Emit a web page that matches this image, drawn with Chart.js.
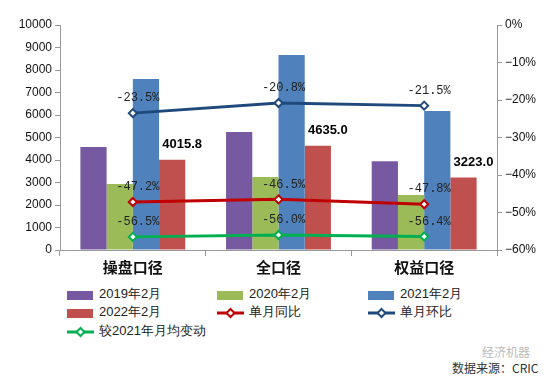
<!DOCTYPE html>
<html>
<head>
<meta charset="utf-8">
<script src="https://cdn.jsdelivr.net/npm/chart.js@4/dist/chart.umd.min.js"></script>
<style>
  body { margin: 0; background: #fff; font-family: "Liberation Sans", Arial, sans-serif; }
  #wrap { position: relative; width: 550px; height: 377px; }
  #chartBox { position: absolute; left: 0; top: 0; width: 550px; height: 285px; }
  #legend { position: absolute; left: 0; top: 285px; width: 550px; }
  .item { position: absolute; font-size: 13px; color: #222; line-height: 16px; white-space: nowrap; }
  .item canvas { vertical-align: middle; margin-right: 4px; }
  #mark { position: absolute; left: 482px; top: 343px; font-size: 12px; color: #bbb; font-family: "Noto Sans CJK SC"; }
  #src { position: absolute; left: 452px; top: 359px; font-size: 12px; color: #333; font-family: "Noto Sans CJK SC"; }
</style>
</head>
<body>
<div id="wrap">
  <div id="chartBox"><canvas id="myChart"></canvas></div>
  <div id="legend"></div>
  <div id="mark">经济机器</div>
  <div id="src">数据来源：CRIC</div>
</div>
<script>
// categories
const categories = ['操盘口径', '全口径', '权益口径'];

// bar series (left axis)
const feb2019 = [4580, 5240, 3950];
const feb2020 = [2930, 3240, 2440];
const feb2021 = [7600, 8670, 6180];
const feb2022 = [4015.8, 4635.0, 3223.0];

// line series (right axis, %)
const yoy = [-47.2, -46.5, -47.8];
const mom = [-23.5, -20.8, -21.5];
const vsAvg2021 = [-56.5, -56.0, -56.4];

const leftTicks = [0, 1000, 2000, 3000, 4000, 5000, 6000, 7000, 8000, 9000, 10000];
const rightTicks = [0, -10, -20, -30, -40, -50, -60];

const barLabel = '#000';

var datasets = [
  { type: 'line', label: '单月同比', data: yoy, yAxisID: 'y1', borderColor: '#C00000', pct: true, order: 0 },
  { type: 'line', label: '单月环比', data: mom, yAxisID: 'y1', borderColor: '#1F497D', pct: true, order: 0 },
  { type: 'line', label: '较2021年月均变动', data: vsAvg2021, yAxisID: 'y1', borderColor: '#00B050', pct: true, order: 0 },
  { type: 'bar', label: '2019年2月', data: feb2019, backgroundColor: '#7659A0', order: 1 },
  { type: 'bar', label: '2020年2月', data: feb2020, backgroundColor: '#9BBB59', order: 1 },
  { type: 'bar', label: '2021年2月', data: feb2021, backgroundColor: '#4F81BD', order: 1 },
  { type: 'bar', label: '2022年2月', data: feb2022, backgroundColor: '#C0504D', order: 1, showValue: true }
];

datasets.forEach(ds => {
  if (ds.type === 'line') {
    ds.borderWidth = 3;
    ds.pointStyle = 'rectRot';
    ds.pointRadius = 4;
    ds.pointBorderWidth = 2;
    ds.pointBackgroundColor = '#fff';
    ds.pointBorderColor = ds.borderColor;
    ds.tension = 0;
  } else {
    ds.categoryPercentage = 0.72;
    ds.barPercentage = 1.0;
  }
});

const labelPlugin = {
  id: 'labels',
  afterDatasetsDraw(chart) {
    const c = chart.ctx;
    c.save();
    chart.data.datasets.forEach((ds, i) => {
      const meta = chart.getDatasetMeta(i);
      meta.data.forEach((el, j) => {
        if (ds.pct) {
          c.font = '12px "Liberation Mono", monospace';
          c.fillStyle = '#222';
          c.textAlign = 'center';
          c.textBaseline = 'middle';
          c.fillText(ds.data[j].toFixed(1) + '%', el.x + 5, el.y - 15);
        } else if (ds.showValue) {
          c.font = 'bold 13px "Liberation Sans", Arial';
          c.fillStyle = barLabel;
          c.textAlign = 'center';
          c.textBaseline = 'middle';
          c.fillText(ds.data[j].toFixed(1), el.x + 10, el.y - 15);
        }
      });
    });
    c.restore();
  }
};

var ctx = document.getElementById('myChart').getContext('2d');
var myChart = new Chart(ctx, {
  data: { labels: categories, datasets: datasets },
  plugins: [labelPlugin],
  options: {
    responsive: true,
    maintainAspectRatio: false,
    animation: false,
    layout: { padding: { top: 25, left: 0, right: 0, bottom: 7 } },
    plugins: { legend: { display: false }, tooltip: { enabled: false } },
    scales: {
      x: {
        offset: true,
        grid: { offset: true, drawOnChartArea: false, color: '#999', tickLength: 6 },
        border: { color: '#999' },
        ticks: { color: '#111', font: { size: 15, weight: 'bold', family: '"Noto Sans CJK SC"' }, padding: 2 }
      },
      y: {
        position: 'left',
        min: 0, max: 10000,
        afterBuildTicks: s => { s.ticks = leftTicks.map(v => ({ value: v })); },
        afterFit: s => { s.width = 60; },
        grid: { drawOnChartArea: false, color: '#999', tickLength: 5 },
        border: { color: '#999' },
        ticks: { color: '#111', font: { size: 12, family: '"Liberation Sans", Arial' }, padding: 3, callback: v => String(v) }
      },
      y1: {
        position: 'right',
        min: -60, max: 0,
        afterBuildTicks: s => { s.ticks = rightTicks.map(v => ({ value: v })); },
        afterFit: s => { s.width = 53; },
        grid: { drawOnChartArea: false, color: '#999', tickLength: 5 },
        border: { color: '#999' },
        ticks: {
          color: '#111', font: { size: 12, family: '"Liberation Sans", Arial' }, padding: 3,
          callback: v => (v < 0 ? '\u2212' + Math.abs(v) : v) + '%'
        }
      }
    }
  }
});

// legend built from the datasets
const legendOrder = ['2019年2月', '2020年2月', '2021年2月', '2022年2月', '单月同比', '单月环比', '较2021年月均变动'];
const colX = [67, 217, 368];
const rowY = [1, 19, 38];
const legendDiv = document.getElementById('legend');
legendOrder.forEach((name, k) => {
  const ds = datasets.find(d => d.label === name);
  const item = document.createElement('div');
  item.className = 'item';
  item.style.left = colX[k % 3] + 'px';
  item.style.top = rowY[Math.floor(k / 3)] + 'px';
  const ic = document.createElement('canvas');
  ic.width = 28; ic.height = 14;
  const g = ic.getContext('2d');
  if (ds.type === 'bar') {
    g.fillStyle = ds.backgroundColor;
    g.fillRect(0, 3, 26, 9);
  } else {
    g.strokeStyle = ds.borderColor;
    g.lineWidth = 3;
    g.beginPath(); g.moveTo(0, 7); g.lineTo(27, 7); g.stroke();
    g.fillStyle = '#fff'; g.lineWidth = 2;
    g.beginPath(); g.moveTo(13.5, 3); g.lineTo(17.5, 7); g.lineTo(13.5, 11); g.lineTo(9.5, 7); g.closePath();
    g.fill(); g.stroke();
  }
  item.appendChild(ic);
  item.appendChild(document.createTextNode(name));
  legendDiv.appendChild(item);
});
</script>
</body>
</html>
